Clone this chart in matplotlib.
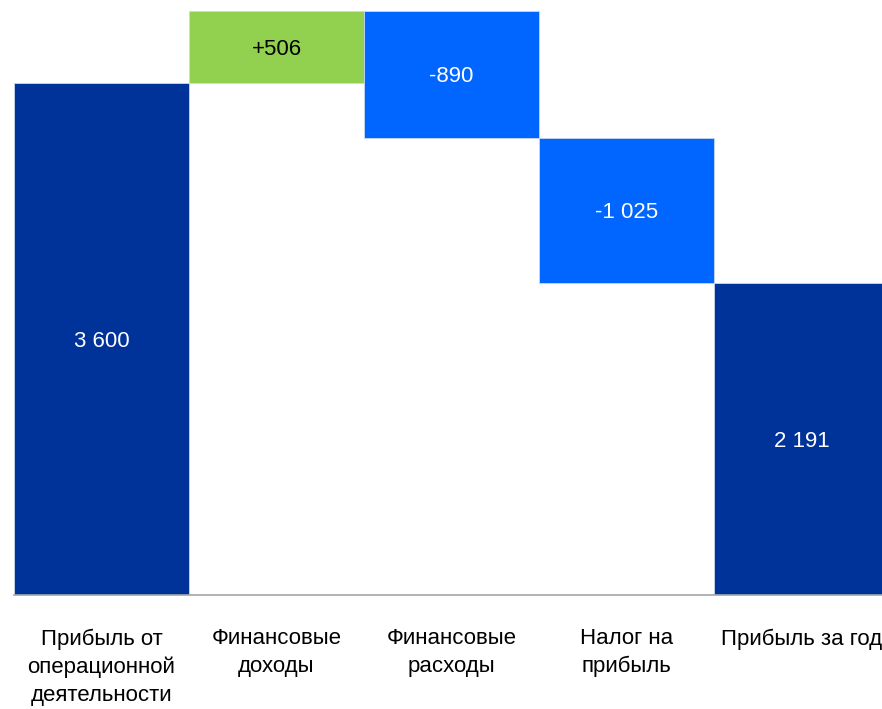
import numpy as np
import matplotlib
matplotlib.use("Agg")
import matplotlib.pyplot as plt

plt.rcParams['font.family'] = ['Liberation Sans', 'DejaVu Sans']

categories = ["Прибыль от\nоперационной\nдеятельности", "Финансовые\nдоходы",
              "Финансовые\nрасходы", "Налог на\nприбыль", "Прибыль за год"]
values = [3600, 506, -890, -1025, 2191]
labels = ["3 600", "+506", "-890", "-1 025", "2 191"]
kinds = ["total", "delta", "delta", "delta", "total"]

dark = "#003399"
green = "#92D050"
blue = "#0066FF"

# waterfall geometry
bottoms, heights, colors = [], [], []
level = 0
for v, k in zip(values, kinds):
    if k == "total":
        bottoms.append(0)
        heights.append(v)
        colors.append(dark)
        level = v
    else:
        if v >= 0:
            bottoms.append(level)
            heights.append(v)
            colors.append(green)
        else:
            bottoms.append(level + v)
            heights.append(-v)
            colors.append(blue)
        level += v

fig = plt.figure(figsize=(8.82, 7.09), dpi=100)
W, H = 882, 709
ax = fig.add_axes([14 / W, (H - 595) / H, 875 / W, (595 - 11) / H])

x = np.arange(len(values))
ax.bar(x, heights, bottom=bottoms, width=1.0, color=colors,
       edgecolor="#c8d8f0", linewidth=0.6)

for xi, b, h, lab, c in zip(x, bottoms, heights, labels, colors):
    ax.text(xi, b + h / 2, lab, ha="center", va="center_baseline", fontsize=16,
            color="black" if c == green else "white")

ax.set_xlim(-0.5, len(values) - 0.5)
ax.set_ylim(0, max(b + h for b, h in zip(bottoms, heights)))
ax.set_xticks(x)
ax.set_xticklabels(categories, fontsize=16, linespacing=1.42)
ax.tick_params(axis="x", length=0, pad=24)
ax.set_yticks([])
for s in ["top", "left", "right"]:
    ax.spines[s].set_visible(False)
ax.spines["bottom"].set_color("#a6a6a6")
ax.spines["bottom"].set_linewidth(1.2)

fig.savefig("out.png", dpi=100)
